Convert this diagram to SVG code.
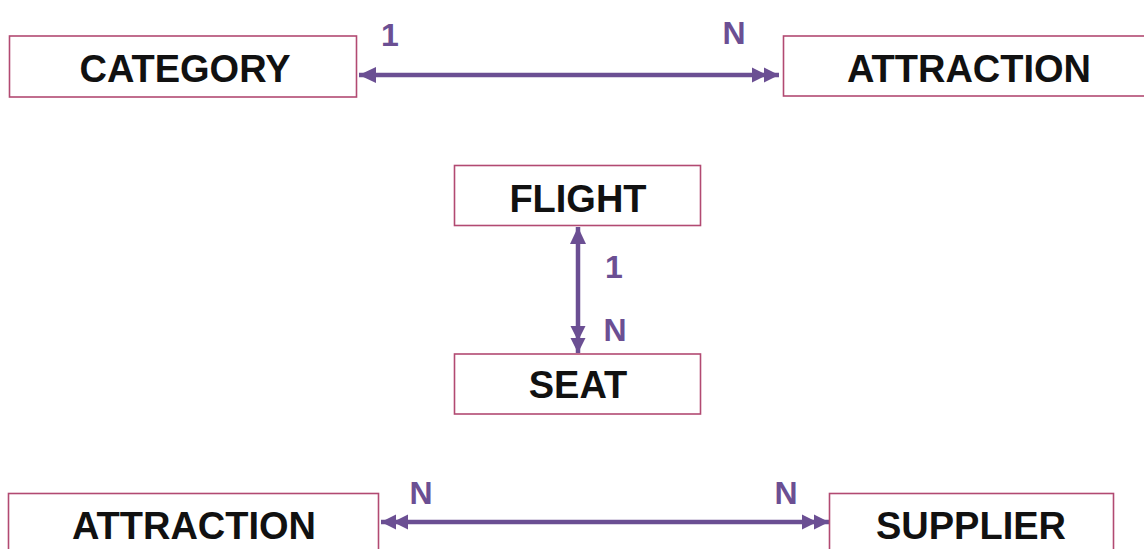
<svg xmlns="http://www.w3.org/2000/svg" width="1144" height="549" viewBox="0 0 1144 549">
<defs>
<style>
.box{fill:#fff;stroke:#b24a72;stroke-width:1.6}
.t{font-family:"Liberation Sans",Arial,sans-serif;font-weight:bold;font-size:38px;fill:#111;text-anchor:middle}
.lbl{font-family:"Liberation Sans",Arial,sans-serif;font-weight:bold;font-size:32px;fill:#6b4f93;text-anchor:middle}
.ln{stroke:#6b4f93;stroke-width:4.5;fill:none}
</style>
<marker id="one" markerUnits="userSpaceOnUse" markerWidth="18" markerHeight="18" refX="17" refY="9" orient="auto-start-reverse" viewBox="0 0 18 18">
<path d="M0,1 L17,9 L0,17 Z" fill="#6b4f93"/>
</marker>
<marker id="many" markerUnits="userSpaceOnUse" markerWidth="28" markerHeight="18" refX="27" refY="9" orient="auto-start-reverse" viewBox="0 0 28 18">
<path d="M0,1.5 L15,9 L0,16.5 Z M12,1.5 L27,9 L12,16.5 Z" fill="#6b4f93"/>
</marker>
</defs>
<rect width="1144" height="549" fill="#fff"/>
<g id="connectors">
<line class="ln" x1="359" y1="75" x2="779" y2="75" marker-start="url(#one)" marker-end="url(#many)"/>
<line class="ln" x1="578" y1="227" x2="578" y2="353" marker-start="url(#one)" marker-end="url(#many)"/>
<line class="ln" x1="381" y1="522" x2="829" y2="522" marker-start="url(#many)" marker-end="url(#many)"/>
<text class="lbl" x="390" y="46">1</text>
<text class="lbl" x="734" y="44">N</text>
<text class="lbl" x="614" y="278">1</text>
<text class="lbl" x="615" y="341">N</text>
<text class="lbl" x="421" y="504">N</text>
<text class="lbl" x="786" y="504">N</text>
</g>
<g id="category">
<rect class="box" x="9.5" y="36" width="347" height="61"/>
<text class="t" x="185" y="82">CATEGORY</text>
</g>
<g id="attraction-top">
<rect class="box" x="783.5" y="36" width="380" height="60"/>
<text class="t" x="969" y="82">ATTRACTION</text>
</g>
<g id="flight">
<rect class="box" x="454.5" y="165.5" width="246" height="60"/>
<text class="t" x="578" y="212">FLIGHT</text>
</g>
<g id="seat">
<rect class="box" x="454.5" y="354" width="246" height="60"/>
<text class="t" x="578" y="398">SEAT</text>
</g>
<g id="attraction-bottom">
<rect class="box" x="8.5" y="493.5" width="370" height="70"/>
<text class="t" x="194" y="539">ATTRACTION</text>
</g>
<g id="supplier">
<rect class="box" x="829.5" y="493.5" width="284" height="70"/>
<text class="t" x="971" y="539">SUPPLIER</text>
</g>
</svg>
